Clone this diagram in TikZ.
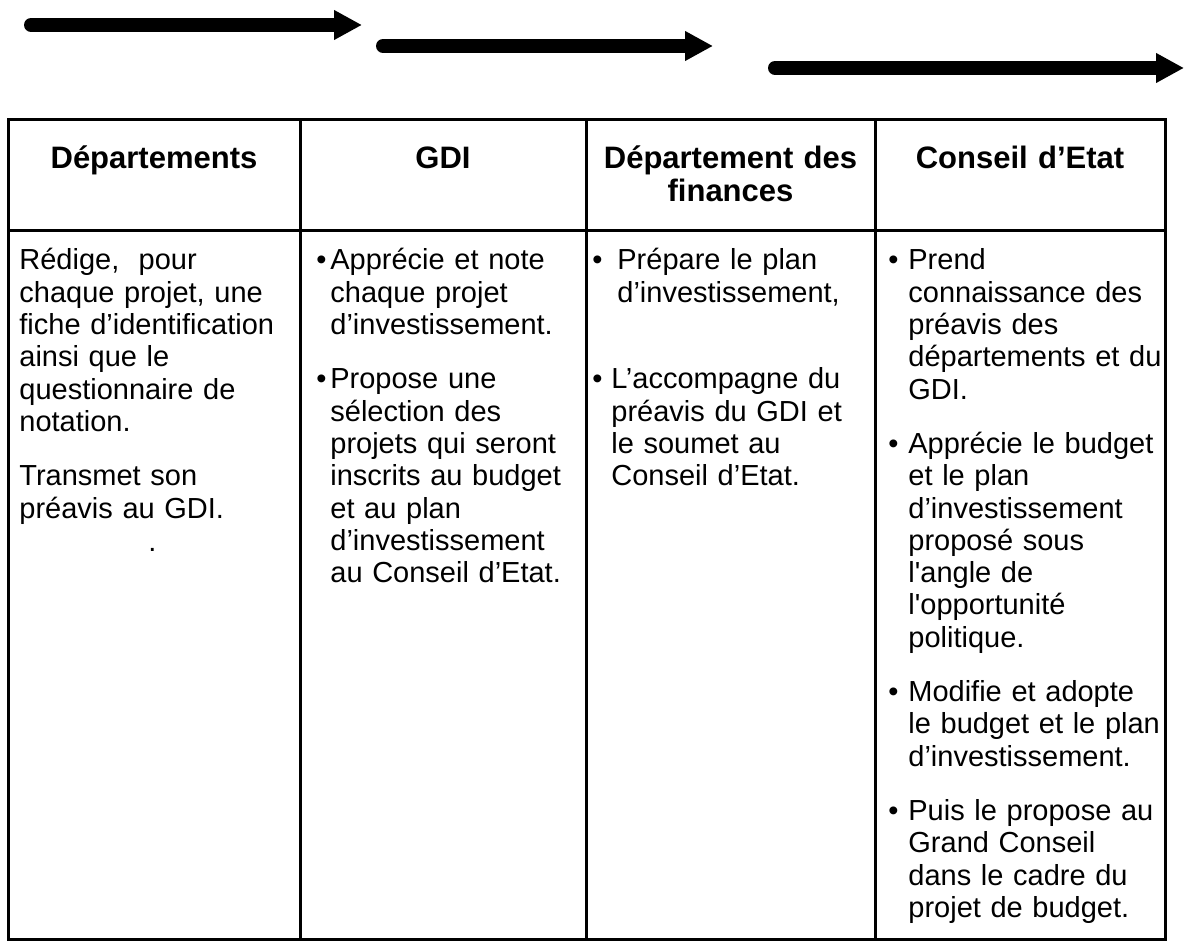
\documentclass[tikz,border=0pt]{standalone}
\usepackage{fontspec}
\setmainfont{Liberation Sans}
\usetikzlibrary{arrows.meta}

\tikzset{
  cell/.style={anchor=base west, text width=140pt, align=left, font=\fontsize{14.5}{16.15}\selectfont},
  hdr/.style={anchor=base, text width=140pt, align=center, font=\bfseries\fontsize{15.5}{16.5}\selectfont},
  fleche/.style={black, line width=7pt, line cap=round, -{Triangle[length=14pt,width=14pt]}},
  trait/.style={black, line width=1.5pt},
}
\newcommand{\puce}[1]{\leavevmode\llap{\textbullet\hspace{#1}}}

\begin{document}
\begin{tikzpicture}[x=0.5pt,y=-0.5pt]
\tikzstyle{every node}+=[inner sep=0pt]
\useasboundingbox (0,0) rectangle (1184,945);
% fleches du haut
\coordinate (f1a) at (31,25);
\coordinate (f1b) at (362,25);
\coordinate (f2a) at (383,46);
\coordinate (f2b) at (713,46);
\coordinate (f3a) at (775,68);
\coordinate (f3b) at (1184,68);
\draw [fleche] (f1a) -- (f1b);
\draw [fleche] (f2a) -- (f2b);
\draw [fleche] (f3a) -- (f3b);
% tableau
\draw [trait] (8,120) rectangle (1165,940);
\draw [trait] (8,231) -- (1165,231);
\foreach \x in {300,586,875}
  \draw [trait] (\x,120) -- (\x,940);
% en-tetes
\draw (154,169) node[hdr] (hdep) {Départements};
\draw (443,169) node[hdr] (hgdi) {GDI};
\draw (730.5,169) node[hdr] (hfin) {Département des\\finances};
\draw (1020,169) node[hdr] (hce) {Conseil d’Etat};
% colonne 1
\draw (19,270) node[cell] (c1a) {Rédige,\ \ pour\\chaque projet, une\\fiche d’identification\\ainsi que le\\questionnaire de\\notation.};
\draw (19,485.8) node[cell] (c1b) {Transmet son\\préavis au GDI.};
\draw (148,552) node[cell] (c1c) {.};
% colonne 2
\draw (330,270) node[cell] (c2a) {\puce{2pt}Apprécie et note\\chaque projet\\d’investissement.};
\draw (330,388.9) node[cell] (c2b) {\puce{2pt}Propose une\\sélection des\\projets qui seront\\inscrits au budget\\et au plan\\d’investissement\\au Conseil d’Etat.};
% colonne 3
\draw (617,270) node[cell] (c3a) {\puce{7.5pt}Prépare le plan\\d’investissement,};
\draw (611,388.9) node[cell] (c3b) {\puce{4.5pt}L’accompagne du\\préavis du GDI et\\le soumet au\\Conseil d’Etat.};
% colonne 4
\draw (908,270) node[cell] (c4a) {\puce{5pt}Prend\\connaissance des\\préavis des\\départements et du\\GDI.};
\draw (908,453.5) node[cell] (c4b) {\puce{5pt}Apprécie le budget\\et le plan\\d’investissement\\proposé sous\\l\textquotesingle angle de\\l\textquotesingle opportunité\\politique.};
\draw (908,701.6) node[cell] (c4c) {\puce{5pt}Modifie et adopte\\le budget et le plan\\d’investissement.};
\draw (908,820.5) node[cell] (c4d) {\puce{5pt}Puis le propose au\\Grand Conseil\\dans le cadre du\\projet de budget.};
\end{tikzpicture}
\end{document}
